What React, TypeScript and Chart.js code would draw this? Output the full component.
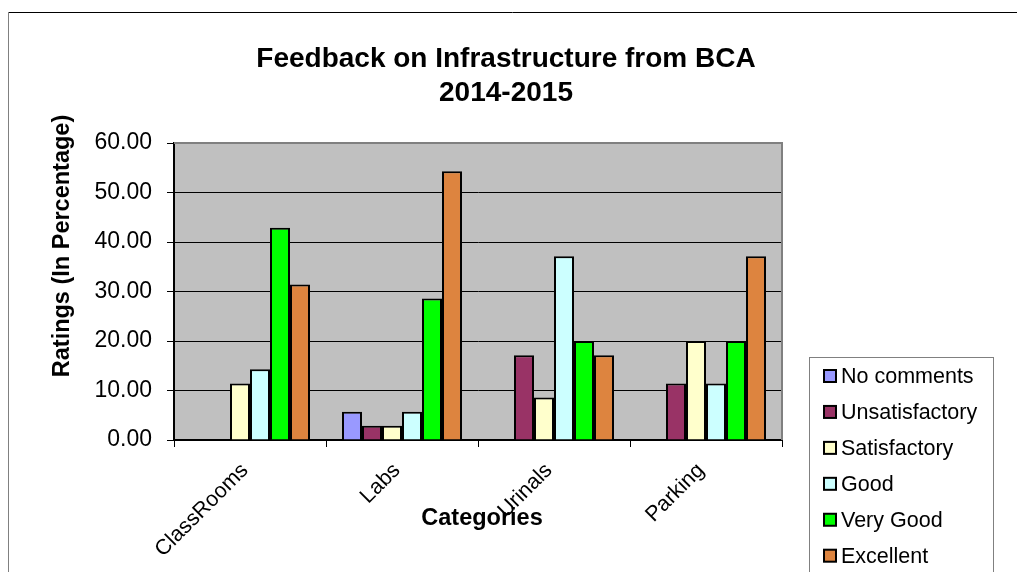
import React, { useEffect, useRef } from "react";
import { Chart, registerables } from "chart.js";

Chart.register(...registerables);

const categories = ["ClassRooms", "Labs", "Urinals", "Parking"];
const seriesNames = ["No comments", "Unsatisfactory", "Satisfactory", "Good", "Very Good", "Excellent"];
const noComments = [0, 5.71, 0, 0];
const unsatisfactory = [0, 2.86, 17.14, 11.43];
const satisfactory = [11.43, 2.86, 8.57, 20.0];
const good = [14.29, 5.71, 37.14, 11.43];
const veryGood = [42.86, 28.57, 20.0, 20.0];
const excellent = [31.43, 54.29, 17.14, 37.14];
const seriesColors = ["#9999FF", "#993366", "#FFFFCC", "#CCFFFF", "#00FF00", "#DD843F"];
const yTicks = [0, 10, 20, 30, 40, 50, 60];
const titleLines = ["Feedback on Infrastructure from BCA", "2014-2015"];
const yTitle = "Ratings (In Percentage)";
const xTitle = "Categories";

const FONT = "'Liberation Sans', Arial, Helvetica, sans-serif";

const decorPlugin = {
  id: "decor",
  beforeDraw(chart: any) {
    const ctx = chart.ctx;
    const a = chart.chartArea;
    ctx.save();
    ctx.fillStyle = "#ffffff";
    ctx.fillRect(0, 0, chart.width, chart.height);
    ctx.strokeStyle = "#000000";
    ctx.lineWidth = 1;
    ctx.beginPath();
    ctx.moveTo(8, 12.5);
    ctx.lineTo(chart.width, 12.5);
    ctx.stroke();
    ctx.strokeStyle = "#808080";
    ctx.beginPath();
    ctx.moveTo(8.5, 12);
    ctx.lineTo(8.5, chart.height);
    ctx.stroke();
    ctx.fillStyle = "#C0C0C0";
    ctx.fillRect(a.left, a.top, a.right - a.left, a.bottom - a.top);
    ctx.restore();
  },
  afterDraw(chart: any) {
    const ctx = chart.ctx;
    const a = chart.chartArea;
    ctx.save();
    ctx.strokeStyle = "#808080";
    ctx.lineWidth = 2;
    ctx.beginPath();
    ctx.moveTo(a.left, a.top);
    ctx.lineTo(a.right, a.top);
    ctx.lineTo(a.right, a.bottom);
    ctx.stroke();

    ctx.fillStyle = "#000000";
    ctx.font = `bold 28px ${FONT}`;
    ctx.textAlign = "center";
    ctx.textBaseline = "alphabetic";
    ctx.fillText(titleLines[0], 506, 67);
    ctx.fillText(titleLines[1], 506, 101);

    ctx.font = `bold 23.5px ${FONT}`;
    ctx.fillText(xTitle, 482, 525);

    ctx.save();
    ctx.translate(68.5, 246);
    ctx.rotate(-Math.PI / 2);
    ctx.font = `bold 23.5px ${FONT}`;
    ctx.fillText(yTitle, 0, 0);
    ctx.restore();

    ctx.strokeStyle = "#808080";
    ctx.lineWidth = 1;
    ctx.strokeRect(809.5, 357.5, 184, 240);
    ctx.font = `21.5px ${FONT}`;
    ctx.textAlign = "left";
    chart.data.datasets.forEach((ds: any, i: number) => {
      const base = 383 + i * 35.94;
      ctx.fillStyle = ds.backgroundColor;
      ctx.fillRect(824, base - 13, 12, 12);
      ctx.strokeStyle = "#000000";
      ctx.lineWidth = 2;
      ctx.strokeRect(824, base - 13, 12, 12);
      ctx.fillStyle = "#000000";
      ctx.fillText(ds.label, 841, base);
    });
    ctx.restore();
  },
};

export default function App() {
  const ref = useRef<HTMLCanvasElement | null>(null);
  useEffect(() => {
    if (!ref.current) return;
    const values = [noComments, unsatisfactory, satisfactory, good, veryGood, excellent];
    const chart = new Chart(ref.current, {
      type: "bar",
      data: {
        labels: categories,
        datasets: seriesNames.map((name, i) => ({
          label: name,
          data: values[i],
          backgroundColor: seriesColors[i],
          borderColor: "#000000",
          borderWidth: 2,
          categoryPercentage: 0.7895,
          barPercentage: 1,
        })),
      },
      options: {
        responsive: false,
        animation: false,
        devicePixelRatio: 1,
        layout: { padding: { left: 40, top: 143, right: 235, bottom: 0 } },
        plugins: {
          legend: { display: false },
          title: { display: false },
          tooltip: { enabled: false },
        },
        scales: {
          x: {
            grid: {
              display: true,
              drawOnChartArea: false,
              drawTicks: true,
              tickLength: 7,
              color: "#000000",
              lineWidth: 1,
              offset: true,
            },
            border: { display: true, color: "#000000", width: 2 },
            ticks: {
              color: "#000000",
              font: { family: FONT, size: 21.5 },
              minRotation: 45,
              maxRotation: 45,
              autoSkip: false,
              padding: 11,
              labelOffset: -5,
            },
            afterFit: (s: any) => {
              s.height = 132;
            },
          },
          y: {
            min: 0,
            max: 60,
            afterBuildTicks: (s: any) => {
              s.ticks = yTicks.map((v) => ({ value: v }));
            },
            ticks: {
              color: "#000000",
              font: { family: FONT, size: 23 },
              padding: 15,
              callback: (v: any) => Number(v).toFixed(2),
            },
            grid: { color: "#000000", lineWidth: 1, tickLength: 7 },
            border: { display: true, color: "#000000", width: 2 },
            afterFit: (s: any) => {
              s.width = 134;
            },
          },
        },
      },
      plugins: [decorPlugin],
    });
    return () => chart.destroy();
  }, []);
  return (
    <div style={{ position: "absolute", left: 0, top: 0, width: 1017, height: 572 }}>
      <canvas ref={ref} width={1017} height={572} />
    </div>
  );
}
